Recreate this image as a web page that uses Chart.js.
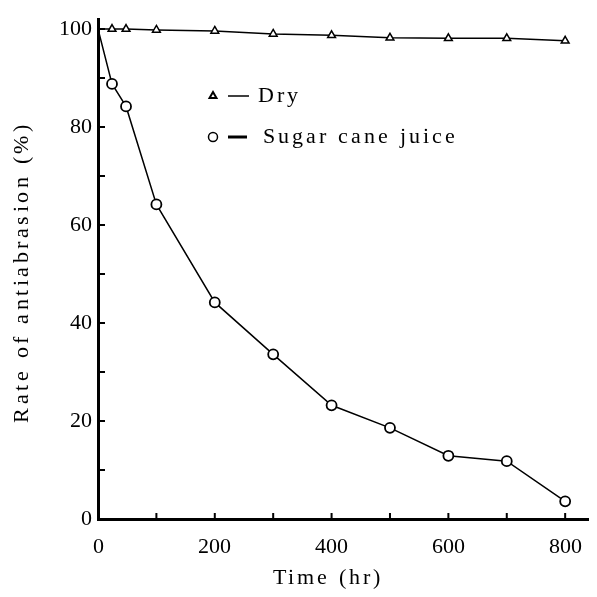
<!DOCTYPE html>
<html>
<head>
<meta charset="utf-8">
<title>Rate of antiabrasion</title>
<script src="https://cdn.jsdelivr.net/npm/chart.js@4.4.1/dist/chart.umd.min.js"></script>
<style>
  @font-face {
    font-family: "PlotSerif";
    src: local("Liberation Serif"), local("LiberationSerif"), local("Liberation Serif Regular"),
         local("LiberationSerif-Regular"), local("DejaVu Serif"), local("DejaVuSerif");
  }
  html, body { margin: 0; padding: 0; background: #fff; }
  canvas { display: block; }
</style>
</head>
<body>
<canvas id="chart" width="597" height="597"></canvas>
<script>
// hours of exposure
const hours = [0, 24, 48, 100, 200, 300, 400, 500, 600, 700, 800];
// rate of antiabrasion (%)
const dry = [100, 100, 100, 99.8, 99.6, 99.0, 98.7, 98.2, 98.1, 98.1, 97.6];
const sugarCane = [100, 88.8, 84.2, 64.2, 44.2, 33.6, 23.2, 18.6, 12.9, 11.8, 3.6];

const seriesNames = ["Dry", "Sugar cane juice"];
const xTickLabels = [0, 200, 400, 600, 800];
const yTickLabels = [0, 20, 40, 60, 80, 100];
const xTitle = "Time (hr)";
const yTitle = "Rate of antiabrasion (%)";

const serif = "PlotSerif, 'Liberation Serif', 'DejaVu Serif', serif";

const toPoints = (ys) => hours.map((h, i) => ({ x: h, y: ys[i] }));
const radii = (r) => hours.map(h => (h === 0 ? 0 : r));

// inward tick marks, axis titles and the in-plot key
const decor = {
  id: "decor",
  afterDraw(chart) {
    const { ctx, chartArea, scales } = chart;
    const x = scales.x, y = scales.y;
    ctx.save();
    ctx.strokeStyle = "#000";
    ctx.lineWidth = 2;
    ctx.beginPath();
    y.ticks.forEach(t => {
      if (t.value === 0 || t.value % 10) return;
      const py = y.getPixelForValue(t.value);
      ctx.moveTo(chartArea.left, py);
      ctx.lineTo(chartArea.left + 7, py);
    });
    x.ticks.forEach(t => {
      if (t.value === 0 || t.value % 100) return;
      const px = x.getPixelForValue(t.value);
      ctx.moveTo(px, chartArea.bottom);
      ctx.lineTo(px, chartArea.bottom - 6);
    });
    ctx.stroke();

    ctx.fillStyle = "#000";
    ctx.textBaseline = "middle";
    ctx.font = "22px " + serif;
    ctx.letterSpacing = "3px";
    ctx.textAlign = "center";
    ctx.fillText(xTitle, 328, 578);

    ctx.save();
    ctx.translate(22, 272);
    ctx.rotate(-Math.PI / 2);
    ctx.letterSpacing = "3.5px";
    ctx.fillText(yTitle, 0, 0);
    ctx.restore();

    // key
    const keyRows = [
      { y: 96, dash: [228, 249], dashWidth: 1.5, textX: 258 },
      { y: 137, dash: [228, 247], dashWidth: 3, textX: 263 }
    ];
    keyRows.forEach((row, i) => {
      const ds = chart.data.datasets[i];
      ctx.fillStyle = "#fff";
      ctx.strokeStyle = "#000";
      Chart.helpers.drawPoint(ctx, {
        pointStyle: ds.pointStyle,
        radius: i === 0 ? 4 : 4.5,
        borderWidth: 1.3
      }, 213, row.y);
      ctx.lineWidth = row.dashWidth;
      ctx.beginPath();
      ctx.moveTo(row.dash[0], row.y);
      ctx.lineTo(row.dash[1], row.y);
      ctx.stroke();
      ctx.fillStyle = "#000";
      ctx.textAlign = "left";
      ctx.letterSpacing = "3px";
      ctx.fillText(ds.label, row.textX, row.y);
    });
    ctx.restore();
  }
};

function draw() {
  new Chart(document.getElementById("chart").getContext("2d"), {
    type: "line",
    data: {
      datasets: [
        {
          label: seriesNames[0],
          data: toPoints(dry),
          borderColor: "#000",
          borderWidth: 1.5,
          pointStyle: "triangle",
          pointRadius: radii(4.5),
          pointBorderWidth: 1.5,
          pointBackgroundColor: "#fff",
          pointBorderColor: "#000",
          tension: 0
        },
        {
          label: seriesNames[1],
          data: toPoints(sugarCane),
          borderColor: "#000",
          borderWidth: 1.5,
          pointStyle: "circle",
          pointRadius: radii(5),
          pointBorderWidth: 1.8,
          pointBackgroundColor: "#fff",
          pointBorderColor: "#000",
          tension: 0
        }
      ]
    },
    options: {
      responsive: false,
      animation: false,
      layout: { padding: { top: 14, right: 7, left: 0, bottom: 0 } },
      plugins: {
        legend: { display: false },
        tooltip: { enabled: false }
      },
      scales: {
        x: {
          type: "linear",
          min: 0,
          max: 840,
          border: { color: "#000", width: 3 },
          grid: { display: false, drawTicks: false },
          ticks: {
            stepSize: 100,
            includeBounds: false,
            maxRotation: 0,
            autoSkip: false,
            padding: 15,
            color: "#000",
            font: { family: serif, size: 22 },
            callback: v => (xTickLabels.includes(v) ? v : "")
          },
          afterFit: s => { s.height = 78; }
        },
        y: {
          min: 0,
          max: 102,
          border: { color: "#000", width: 3 },
          grid: { display: false, drawTicks: false },
          ticks: {
            stepSize: 10,
            includeBounds: false,
            autoSkip: false,
            padding: 6,
            color: "#000",
            font: { family: serif, size: 22 },
            callback: v => (yTickLabels.includes(v) ? v : "")
          },
          afterFit: s => { s.width = 98; }
        }
      }
    },
    plugins: [decor]
  });
}

document.fonts.load("22px PlotSerif").then(draw, draw);
</script>
</body>
</html>
